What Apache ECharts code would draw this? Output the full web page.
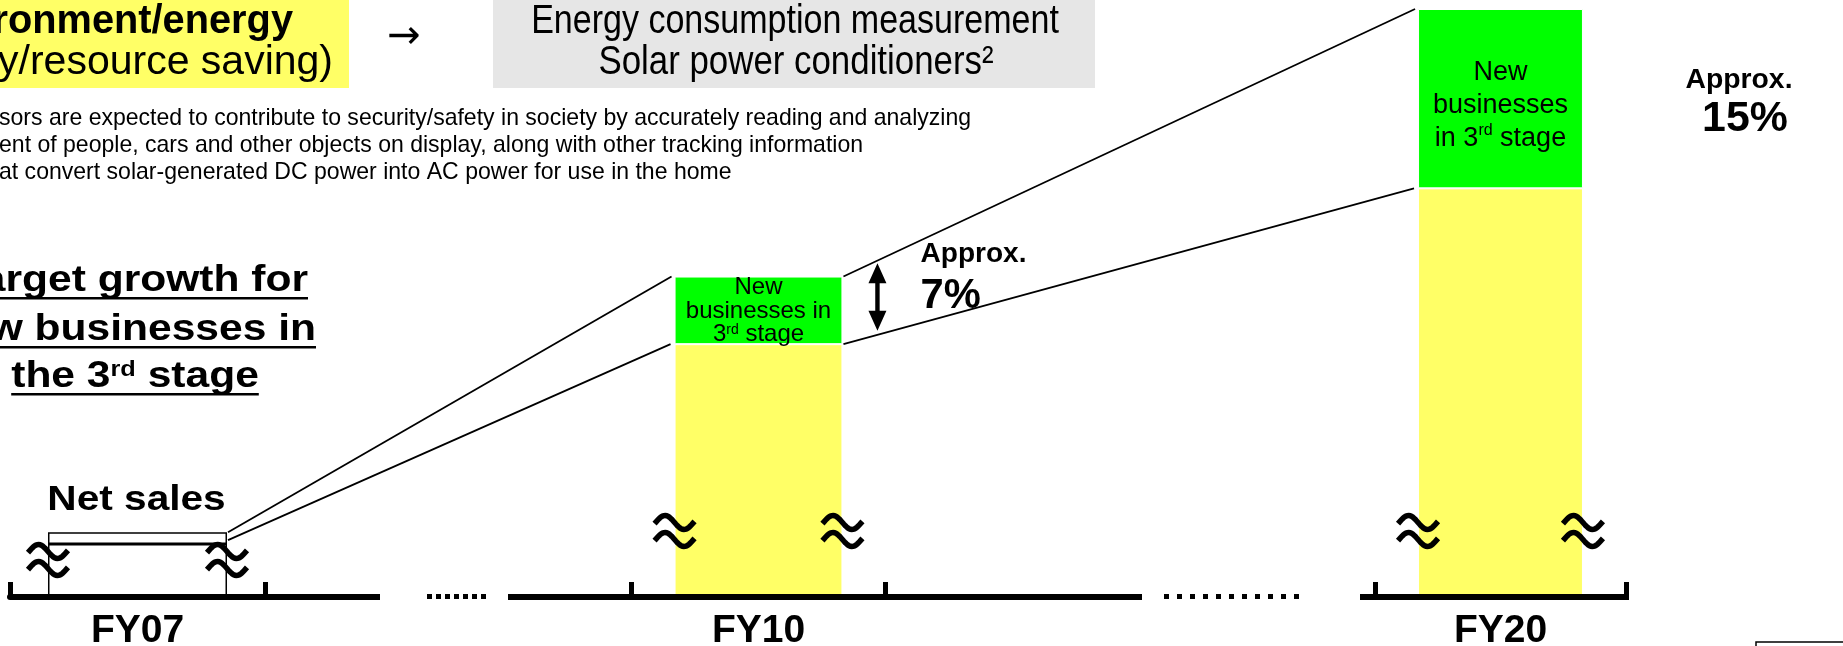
<!DOCTYPE html>
<html>
<head>
<meta charset="utf-8">
<script src="https://cdn.jsdelivr.net/npm/echarts@6/dist/echarts.min.js"></script>
<style>
  html, body { margin: 0; padding: 0; background: #fff; }
  #chart { width: 1843px; height: 646px; }
</style>
</head>
<body>
<div id="chart"></div>
<script>
// Fiscal years on the (broken) horizontal axis
const years = ['FY07', 'FY10', 'FY20'];
// Net sales without the 3rd-stage new businesses (schematic index, axis is broken)
const baseSales = [9, 43, 69.5];
// Net sales of new businesses in the 3rd stage (same index)
const newBusiness = [2, 11.5, 30.5];
// Approximate share of 3rd-stage new businesses in net sales (%)
const newShare = [null, 7, 15];

const FONT = "'Liberation Sans', Arial, Helvetica, sans-serif";
const AXIS_Y = 597;

// one small grid per fiscal year, the gaps between them are the axis breaks
const groups = [
  { left: 10, width: 255, bar: 0.702, breakLift: 37 },
  { left: 631.5, width: 254, bar: 0.661, breakLift: 66 },
  { left: 1375, width: 251, bar: 0.657, breakLift: 66 }
];

function richLabel(parts) {
  return parts.map(p => '{' + (p[1] ? 's' : 'a') + '|' + p[0] + '}').join('');
}

const greenLabels = [
  null,
  { text: [[['New']], [['businesses in']], [['3'], ['rd', 1], [' stage']]], size: 24, sup: 14, lh: 23.5, offset: [0, 1] },
  { text: [[['New']], [['businesses']], [['in 3'], ['rd', 1], [' stage']]], size: 27, sup: 16, lh: 33, offset: [0, 7] }
];

const series = [];
years.forEach((fy, i) => {
  const outlined = i === 0;
  const common = {
    type: 'bar', xAxisIndex: i, yAxisIndex: i, stack: 'fy' + i,
    barWidth: (groups[i].bar * 100).toFixed(1) + '%', silent: true
  };
  series.push(Object.assign({}, common, {
    name: 'Net sales',
    data: [baseSales[i]],
    itemStyle: outlined
      ? { color: '#fff', borderColor: '#000', borderWidth: 1.5 }
      : { color: '#ffff66', borderColor: '#fff', borderWidth: 1 }
  }));
  const gl = greenLabels[i];
  series.push(Object.assign({}, common, {
    name: 'New businesses in 3rd stage',
    data: [newBusiness[i]],
    itemStyle: outlined
      ? { color: '#fff', borderColor: '#000', borderWidth: 1.5 }
      : { color: '#00ff00', borderColor: '#fff', borderWidth: 1 },
    label: gl ? {
      show: true, position: 'inside', offset: gl.offset, color: '#000',
      fontFamily: FONT, align: 'center',
      formatter: gl.text.map(line => richLabel(line)).join('\n'),
      rich: {
        a: { fontSize: gl.size, lineHeight: gl.lh, fontFamily: FONT, color: '#000' },
        s: { fontSize: gl.sup, lineHeight: gl.sup, verticalAlign: 'top', fontFamily: FONT, color: '#000' }
      }
    } : { show: false }
  }));
});

const chart = echarts.init(document.getElementById('chart'), null, { renderer: 'canvas' });

chart.setOption({
  animation: false,
  backgroundColor: '#fff',
  grid: groups.map(g => ({
    left: g.left, width: g.width, top: 9, bottom: 646 - AXIS_Y,
    containLabel: false, outerBoundsMode: 'none'
  })),
  xAxis: groups.map((g, i) => ({
    type: 'category', gridIndex: i, data: [years[i]], z: 5,
    axisLine: { show: true, lineStyle: { color: '#000', width: 6 } },
    axisTick: { show: true, inside: true, length: 15, lineStyle: { color: '#000', width: 5 } },
    axisLabel: { show: true, color: '#000', fontFamily: FONT, fontWeight: 'bold', fontSize: 39, lineHeight: 39, margin: 15 },
    splitLine: { show: false }
  })),
  yAxis: groups.map((g, i) => ({ type: 'value', gridIndex: i, min: 0, max: 100, show: false })),
  series: series
});

// ---------- annotation layer ----------
const measureCtx = document.createElement('canvas').getContext('2d');
function fontStr(size, bold, family) { return (bold ? 'bold ' : '') + size + 'px ' + (family || FONT); }
function textWidth(s, size, bold) { measureCtx.font = fontStr(size, bold); return measureCtx.measureText(s).width; }

// plain text placed by its baseline, optionally stretched horizontally
function txt(text, x, baseline, size, bold, align, sx, family) {
  return {
    type: 'text', x: x, y: baseline - 0.35 * size, scaleX: sx || 1, z: 30,
    style: { text: text, font: fontStr(size, bold, family), fill: '#000', align: align || 'left', verticalAlign: 'middle' }
  };
}
// text with superscript parts: parts = [[string, isSup], ...]
function supTxt(parts, x, baseline, size, supSize, bold, align, sx) {
  return {
    type: 'text', x: x, y: baseline - 0.35 * size, scaleX: sx || 1, z: 30,
    style: {
      text: richLabel(parts), align: align || 'left', verticalAlign: 'middle', fill: '#000',
      rich: {
        a: { font: fontStr(size, bold), lineHeight: size, fill: '#000' },
        s: { font: fontStr(supSize, bold), lineHeight: supSize, verticalAlign: 'top', fill: '#000' }
      }
    }
  };
}
function rect(x, y, w, h, fill, stroke, lw, z) {
  return { type: 'rect', shape: { x: x, y: y, width: w, height: h }, z: z || 1,
    style: { fill: fill, stroke: stroke || null, lineWidth: lw || 0 } };
}
function line(x1, y1, x2, y2, w) {
  return { type: 'line', shape: { x1: x1, y1: y1, x2: x2, y2: y2 }, z: 15,
    style: { stroke: '#000', lineWidth: w || 1.8 } };
}
// one wave of the "≈" break symbol
function wave(cx, cy) {
  const pts = [];
  for (let k = 0; k <= 30; k++) {
    const x = -20 + 40 * k / 30;
    pts.push([cx + x, cy + 7 * Math.sin(Math.PI * x / 19)]);
  }
  return { type: 'polyline', shape: { points: pts }, z: 25, style: { stroke: '#000', lineWidth: 5.5, fill: null } };
}

// bar geometry in pixels, from the axes
const bars = years.map((fy, i) => {
  const base = chart.convertToPixel({ gridIndex: i }, [fy, baseSales[i]]);
  const top = chart.convertToPixel({ gridIndex: i }, [fy, baseSales[i] + newBusiness[i]]);
  const half = groups[i].bar * groups[i].width / 2;
  return { cx: base[0], left: base[0] - half, right: base[0] + half, baseY: base[1], topY: top[1] };
});

const g = [];

// header boxes
g.push(rect(-5, -5, 354, 93, '#ffff66'));
g.push(rect(493, -5, 602, 93, '#e6e6e6'));
g.push(txt('Environment/energy', 293, 36, 41, true, 'right', 0.97));
g.push(txt('(Energy/resource saving)', 333, 77, 41, false, 'right', 1.0));
g.push(txt('\u2192', 404, 52, 40, false, 'center', 1, "'DejaVu Sans', sans-serif"));
g.push(txt('Energy consumption measurement', 795, 36, 41, false, 'center', 0.83));
g.push(txt('Solar power conditioners\u00b2', 796, 77, 41, false, 'center', 0.85));

// footnotes
g.push(txt('sors are expected to contribute to security/safety in society by accurately reading and analyzing', -1, 127, 24, false, 'left', 0.96));
g.push(txt('ent of people, cars and other objects on display, along with other tracking information', -1, 154, 24, false, 'left', 0.96));
g.push(txt('at convert solar-generated DC power into AC power for use in the home', -1, 181, 24, false, 'left', 0.96));

// underlined heading
const hs = 37, hsx = 1.15;
const h1 = 'Target growth for', h2 = 'New businesses in';
g.push(txt(h1, 308, 294, hs, true, 'right', hsx));
g.push(rect(308 - textWidth(h1, hs, true) * hsx, 297, textWidth(h1, hs, true) * hsx, 2.5, '#000', null, 0, 30));
g.push(txt(h2, 316, 343, hs, true, 'right', hsx));
g.push(rect(316 - textWidth(h2, hs, true) * hsx, 346, textWidth(h2, hs, true) * hsx, 2.5, '#000', null, 0, 30));
const h3 = [['the 3'], ['rd', 1], [' stage']];
const h3w = (textWidth('the 3', hs, true) + textWidth('rd', 22, true) + textWidth(' stage', hs, true)) * hsx;
g.push(supTxt(h3, 135, 390, hs, 22, true, 'center', hsx));
g.push(rect(135 - h3w / 2, 393, h3w, 2.5, '#000', null, 0, 30));

// "Net sales" over the FY07 box
g.push(txt('Net sales', bars[0].cx - 1, 513, 35, true, 'center', 1.16));

// connectors between consecutive bars
for (let i = 0; i < bars.length - 1; i++) {
  const a = bars[i], b = bars[i + 1];
  g.push(line(a.right + 1, a.topY, b.left - 3, b.topY));
  g.push(line(a.right + 1, a.baseY - (i === 0 ? 4 : 0), b.left - 4, b.baseY));
}

// double arrow + share label next to FY10
{
  const a = bars[1], b = bars[2];
  const ax = a.right + 35;
  const yUp = a.topY + (b.topY - a.topY) * (ax - a.right) / (b.left - a.right) + 3;
  const yLo = a.baseY + (b.baseY - a.baseY) * (ax - a.right) / (b.left - a.right) - 4;
  const hw = 9, sw = 2.2, hl = 20;
  g.push({ type: 'polygon', z: 25, style: { fill: '#000' }, shape: { points: [
    [ax, yUp], [ax + hw, yUp + hl], [ax + sw, yUp + hl], [ax + sw, yLo - hl], [ax + hw, yLo - hl],
    [ax, yLo], [ax - hw, yLo - hl], [ax - sw, yLo - hl], [ax - sw, yUp + hl], [ax - hw, yUp + hl]
  ] } });
  g.push(txt('Approx.', ax + 43, 264, 27, true, 'left', 1.04));
  g.push(txt(newShare[1] + '%', ax + 43, 311, 43, true, 'left', 0.97));
}
// share label right of FY20
g.push(txt('Approx.', bars[2].right + 156, 90, 27, true, 'center', 1.05));
g.push(txt(newShare[2] + '%', bars[2].right + 162, 134, 42, true, 'center', 1.02));

// break symbols on both edges of each bar
bars.forEach((b, i) => {
  const cy = AXIS_Y - groups[i].breakLift;
  [b.left, b.right].forEach(x => { g.push(wave(x, cy - 8.5)); g.push(wave(x, cy + 8.5)); });
});

// axis line pieces outside the grids, and the dotted gaps
g.push(rect(265, AXIS_Y - 3, 115, 6, '#000', null, 0, 20));
g.push(rect(508, AXIS_Y - 3, 124, 6, '#000', null, 0, 20));
g.push(rect(885, AXIS_Y - 3, 257, 6, '#000', null, 0, 20));
g.push(rect(1360, AXIS_Y - 3, 15, 6, '#000', null, 0, 20));
g.push(rect(1626, AXIS_Y - 3, 3, 6, '#000', null, 0, 20));
for (let k = 0; k < 7; k++) g.push(rect(427 + k * 9, AXIS_Y - 3, 5, 5, '#000', null, 0, 20));
for (let k = 0; k < 11; k++) g.push(rect(1164 + k * 13, AXIS_Y - 3, 5, 5, '#000', null, 0, 20));

// page box in the corner
g.push(rect(1756, 642, 100, 20, '#fff', '#000', 1.5, 20));

chart.setOption({ graphic: { elements: g } });
</script>
</body>
</html>
